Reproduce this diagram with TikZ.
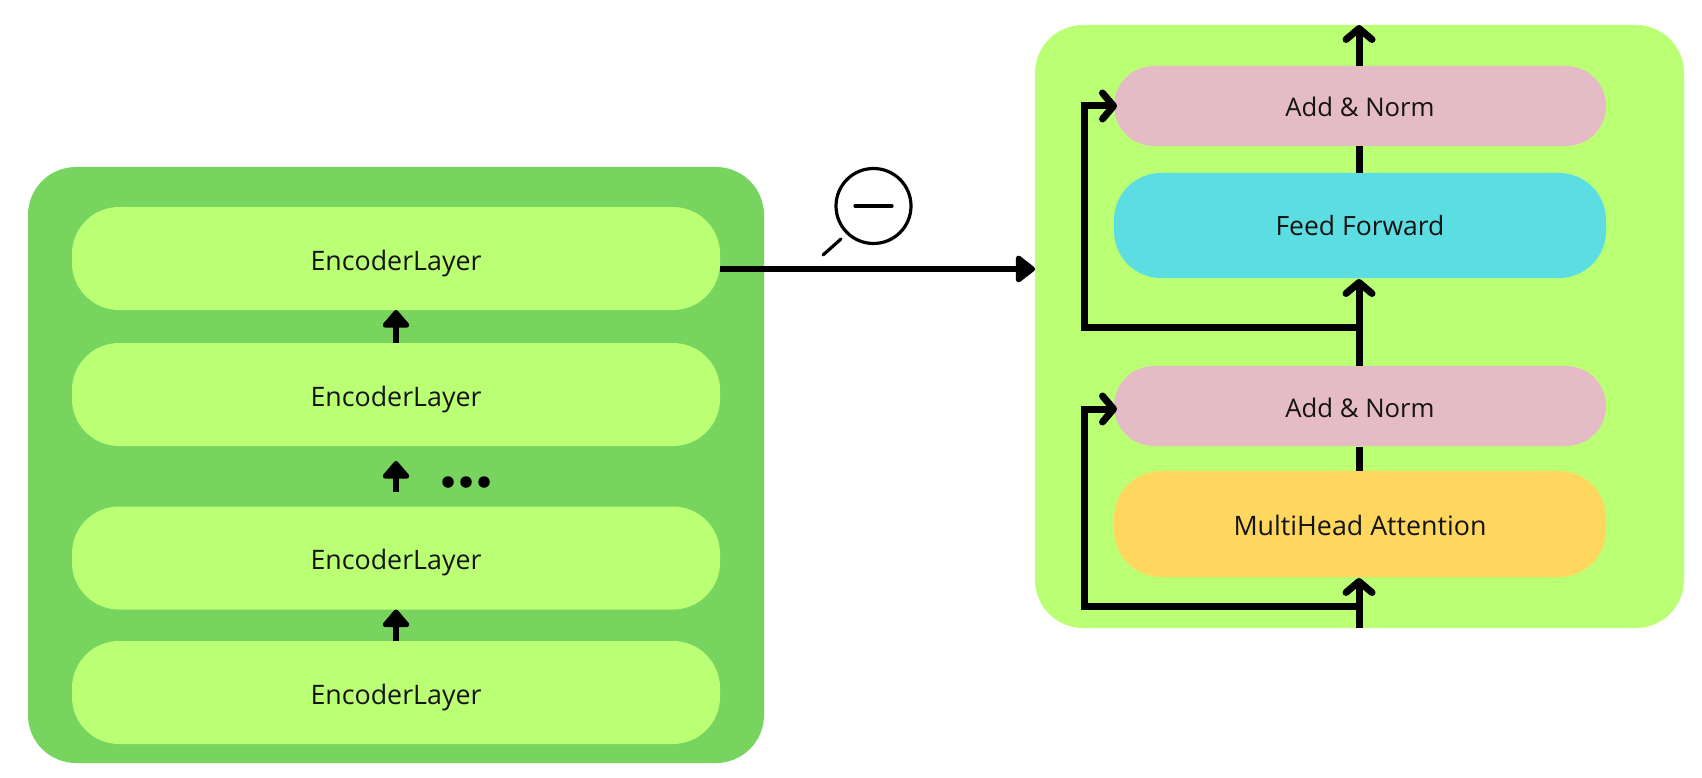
\documentclass[tikz,border=0pt]{standalone}
\usepackage{fontspec}
\setmainfont{Open Sans}
\usetikzlibrary{arrows.meta,positioning}
\definecolor{panelDark}{HTML}{77D45E}
\definecolor{limeG}{HTML}{BBFF75}
\definecolor{pinkN}{HTML}{E5BBC6}
\definecolor{cyanF}{HTML}{5BDDE2}
\definecolor{yellowM}{HTML}{FFD75E}
\tikzset{
  panel/.style={inner sep=0pt,outer sep=0pt,rounded corners=48pt,minimum width=#1},
  pill/.style={inner sep=0pt,outer sep=0pt,rounded corners=47pt,font=\fontsize{26.8}{30}\selectfont,text=black!92,text height=22pt,text depth=0pt},
  enc/.style={pill,fill=limeG,minimum width=648pt,minimum height=103pt,text height=23pt},
  addn/.style={pill,fill=pinkN,minimum width=492pt,minimum height=80pt,rounded corners=39.9pt,font=\fontsize{25.7}{30}\selectfont},
  bigp/.style={pill,minimum width=492pt,minimum height=105pt},
  conn/.style={line width=7pt,line join=miter},
  chev/.style={line width=7pt,-{Straight Barb[length=11pt,width=26pt,line width=7pt,round]}},
  fat/.style={line width=6.3pt,-{Triangle[length=21pt,width=31pt,round]}},
  smallarr/.style={line width=5.6pt,-{Triangle[length=19pt,width=31pt,round]}},
  lens/.style={circle,draw=black,line width=3.2pt,minimum size=75pt,inner sep=0pt},
  dotm/.style={circle,fill=black,minimum size=11.5pt,inner sep=0pt}
}
\begin{document}
\begin{tikzpicture}[x=1pt,y=-1pt]
\useasboundingbox (0,0) rectangle (1702,778);
\fill[white] (0,0) rectangle (1702,778);
% panels
\node[panel=736pt,fill=panelDark,minimum height=596pt] (left) at (396,465) {};
\node[panel=649pt,fill=limeG,minimum height=603pt] (right) at (1359.5,326.5) {};
% encoder layers
\node[enc] (e1) at (396,258.5) {EncoderLayer};
\node[enc] (e2) at (396,394.5) {EncoderLayer};
\node[enc] (e3) at (396,558) {EncoderLayer};
\node[enc] (e4) at (396,692.5) {EncoderLayer};
% decoder-side nodes
\node[addn] (a2) at (1360,106) {Add \& Norm};
\node[bigp,fill=cyanF,text height=20pt,font=\fontsize{26.5}{30}\selectfont] (ff) at (1360,225.5) {Feed Forward};
\node[addn] (a1) at (1360,406) {Add \& Norm};
\node[bigp,fill=yellowM,minimum height=106pt] (mh) at (1360,524) {MultiHead Attention};
% left stack arrows
\draw[smallarr] (e2.north) -- (e1.south);
\draw[smallarr] (396,492) coordinate (t2) -- (396,461) coordinate (h2);
\draw[smallarr] (e4.north) -- (e3.south);
\node[dotm] (d1) at (448,482) {};
\node[dotm] (d2) at (466,482) {};
\node[dotm] (d3) at (484,482) {};
% main arrow
\coordinate (rl) at (1035,269);
\draw[fat] (e1.east |- rl) -- (rl);
% magnifier
\node[lens] (lensc) at (873.5,206) {};
\coordinate (hs) at (841,239);
\coordinate (he) at (823,255);
\draw[line width=3.2pt,line cap=round] (hs) -- (he);
\coordinate (ml) at (855,206);
\coordinate (mr) at (892,206);
\draw[line width=3.2pt,line cap=round] (ml) -- (mr);
% right arrows
\coordinate (b0) at (1359,628);
\coordinate (s1) at (1359,606);
\coordinate (c1) at (1084,606);
\coordinate (u1) at (1084,409);
\coordinate (s2) at (1359,327);
\coordinate (c2) at (1084,327);
\coordinate (u2) at (1084,106);
\coordinate (top) at (1359,25);
\draw[chev] (b0) -- (1359,578);
\draw[conn] (1359,446.5) -- (1359,471);
\draw[chev] (1359,366) -- (1359,279);
\draw[conn] (1359,146) -- (1359,173);
\draw[chev] (1359,66) -- (top);
\draw[chev] (s1) -- (c1) -- (u1) -- (1117,409);
\draw[chev] (s2) -- (c2) -- (u2) -- (1117,106);
\end{tikzpicture}
\end{document}
